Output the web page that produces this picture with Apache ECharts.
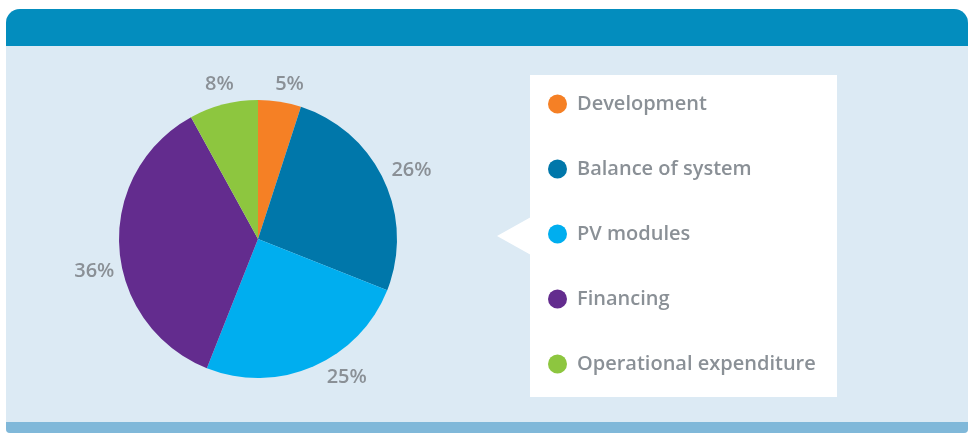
<!DOCTYPE html>
<html>
<head>
<meta charset="utf-8">
<script src="https://cdn.jsdelivr.net/npm/echarts@6/dist/echarts.min.js"></script>
<style>
  html, body { margin: 0; padding: 0; background: #fff; }
  .panel {
    position: absolute; left: 6px; top: 9px; width: 962px; height: 424px;
    background: #dceaf4; border-radius: 14px 14px 4px 4px; overflow: hidden;
  }
  .panel .head { position: absolute; left: 0; top: 0; right: 0; height: 37px; background: #038dbe; }
  .panel .foot { position: absolute; left: 0; bottom: 0; right: 0; height: 11px; background: #80b8d9; }
  #chart { position: absolute; left: 0; top: 0; width: 968px; height: 433px; }
</style>
</head>
<body>
<div class="panel"><div class="head"></div><div class="foot"></div></div>
<div id="chart"></div>
<script>
// cost breakdown, percent
const categories = ['Development', 'Balance of system', 'PV modules', 'Financing', 'Operational expenditure'];
const shares = [5, 26, 25, 36, 8];
const colors = ['#f58025', '#0077aa', '#00aeef', '#632c8e', '#8dc63f'];

// small nudges so the % labels sit where the original puts them
const labelNudge = [[6, 6], [6, 1], [24, -11], [-1, 22], [2, 3]];

const textGrey = '#8a9096';
const font = '"Open Sans", "DejaVu Sans", sans-serif';

const chart = echarts.init(document.getElementById('chart'), null, { renderer: 'canvas' });

chart.setOption({
  backgroundColor: 'transparent',
  animation: false,
  color: colors,
  graphic: [
    { type: 'rect', shape: { x: 530, y: 75, width: 307, height: 322 }, style: { fill: '#fff' }, silent: true },
    { type: 'polygon', shape: { points: [[497, 236], [531, 217], [531, 255]] }, style: { fill: '#fff' }, silent: true }
  ],
  legend: {
    orient: 'vertical',
    left: 543,
    top: 89,
    icon: 'circle',
    itemWidth: 19,
    itemHeight: 19,
    itemGap: 45,
    selectedMode: false,
    data: categories,
    textStyle: {
      color: textGrey,
      fontFamily: font,
      fontWeight: 600,
      fontSize: 20,
      lineHeight: 19,
      padding: [0, 0, 0, 5]
    }
  },
  series: [
    {
      type: 'pie',
      center: [258, 239],
      radius: [0, 139],
      startAngle: 90,
      clockwise: true,
      silent: true,
      label: { show: false },
      labelLine: { show: false },
      data: categories.map((name, i) => ({ name: name, value: shares[i] }))
    },
    {
      // invisible ring that only carries the percentage labels
      type: 'pie',
      center: [258, 239],
      radius: [150, 170],
      startAngle: 90,
      clockwise: true,
      silent: true,
      legendHoverLink: false,
      itemStyle: { color: 'transparent' },
      label: {
        show: true,
        position: 'inside',
        formatter: '{c}%',
        color: textGrey,
        fontFamily: font,
        fontWeight: 600,
        fontSize: 20
      },
      labelLine: { show: false },
      data: categories.map((name, i) => ({
        name: name + ' ',
        value: shares[i],
        label: { offset: labelNudge[i] }
      }))
    }
  ]
});
</script>
</body>
</html>
